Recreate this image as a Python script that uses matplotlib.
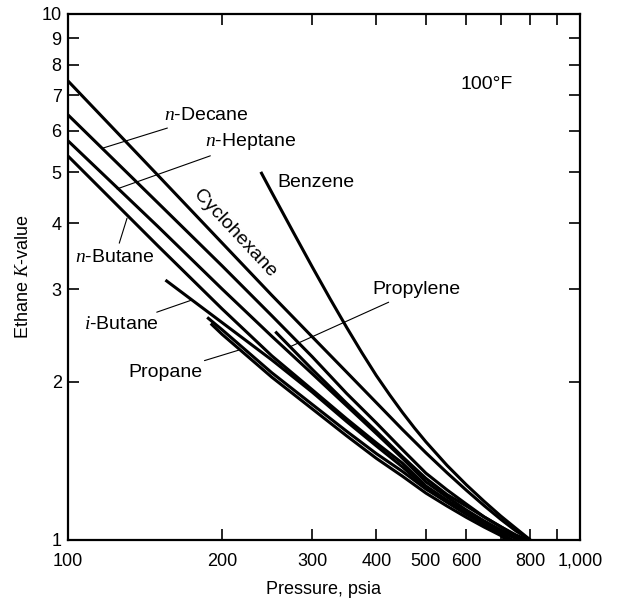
import matplotlib
matplotlib.use("Agg")
import matplotlib.pyplot as plt
from matplotlib.ticker import FixedLocator, FixedFormatter, NullLocator

plt.rcParams['font.family'] = ['Liberation Sans', 'DejaVu Sans']
plt.rcParams['mathtext.fontset'] = 'custom'
plt.rcParams['mathtext.rm'] = 'Liberation Sans'
plt.rcParams['mathtext.it'] = 'Liberation Serif:italic'
plt.rcParams['font.size'] = 13

# ethane K-value vs pressure (psia)
cyclohexane_p = [100, 150, 200, 250, 300, 350, 400, 450, 500, 550, 600, 650, 700, 750, 800]
cyclohexane_k = [7.46, 4.93, 3.67, 2.92, 2.433, 2.086, 1.825, 1.622, 1.465, 1.342, 1.243, 1.162, 1.095, 1.04, 1.0]

benzene_p = [238, 250, 275, 300, 325, 350, 375, 400, 425, 450, 475, 500, 550, 600, 650, 700, 750, 800]
benzene_k = [5.01, 4.58, 3.858, 3.304, 2.875, 2.538, 2.27, 2.055, 1.887, 1.748, 1.633, 1.537,
             1.386, 1.273, 1.184, 1.111, 1.052, 1.0]

decane_p = [100, 150, 200, 250, 300, 350, 400, 450, 500, 550, 600, 650, 700, 750, 791]
decane_k = [6.43, 4.37, 3.32, 2.67, 2.23, 1.90, 1.67, 1.485, 1.34, 1.245, 1.17, 1.106, 1.06, 1.022, 1.0]

heptane_p = [100, 150, 200, 250, 300, 350, 400, 450, 500, 550, 600, 650, 700, 750, 771]
heptane_k = [5.74, 3.94, 3.00, 2.44, 2.07, 1.80, 1.594, 1.43, 1.29, 1.207, 1.14, 1.087, 1.045, 1.013, 1.0]

butane_p = [100, 150, 200, 250, 300, 350, 400, 450, 500, 550, 600, 650, 700, 757]
butane_k = [5.37, 3.62, 2.75, 2.24, 1.93, 1.70, 1.53, 1.40, 1.267, 1.19, 1.13, 1.082, 1.04, 1.0]

ibutane_p = [155, 200, 250, 300, 350, 400, 450, 500, 550, 600, 650, 700, 737]
ibutane_k = [3.12, 2.59, 2.20, 1.91, 1.68, 1.51, 1.377, 1.256, 1.181, 1.12, 1.072, 1.031, 1.0]

propylene_p = [254, 300, 350, 400, 450, 500, 550, 600, 650, 700, 750, 771]
propylene_k = [2.49, 2.11, 1.82, 1.61, 1.44, 1.31, 1.22, 1.16, 1.106, 1.06, 1.018, 1.0]

propane_upper_p = [187, 200, 250, 300, 350, 400, 450, 500, 550, 600, 650, 700, 729]
propane_upper_k = [2.65, 2.51, 2.08, 1.81, 1.61, 1.46, 1.35, 1.25, 1.18, 1.12, 1.07, 1.03, 1.0]

propane_lower_p = [190, 200, 250, 300, 350, 400, 450, 500, 550, 600, 650, 700, 717]
propane_lower_k = [2.58, 2.46, 2.04, 1.775, 1.578, 1.43, 1.322, 1.228, 1.16, 1.104, 1.058, 1.02, 1.0]

x_ticks = [100, 200, 300, 400, 500, 600, 700, 800, 900, 1000]
x_labels = ['100', '200', '300', '400', '500', '600', '', '800', '', '1,000']
y_ticks = [1, 2, 3, 4, 5, 6, 7, 8, 9, 10]
y_labels = ['1', '2', '3', '4', '5', '6', '7', '8', '9', '10']

fig = plt.figure(figsize=(6.21, 6.02), dpi=100)
ax = fig.add_axes([68 / 621, 1 - 540 / 602, 512 / 621, 526 / 602])

curves = [
    (cyclohexane_p, cyclohexane_k),
    (benzene_p, benzene_k),
    (decane_p, decane_k),
    (heptane_p, heptane_k),
    (butane_p, butane_k),
    (ibutane_p, ibutane_k),
    (propylene_p, propylene_k),
    (propane_upper_p, propane_upper_k),
    (propane_lower_p, propane_lower_k),
]
for p, k in curves:
    ax.plot(p, k, color='black', lw=2.2, solid_capstyle='butt', solid_joinstyle='round')

ax.set_xscale('log')
ax.set_yscale('log')
ax.set_xlim(100, 1000)
ax.set_ylim(1, 10)

ax.xaxis.set_major_locator(FixedLocator(x_ticks))
ax.xaxis.set_major_formatter(FixedFormatter(x_labels))
ax.xaxis.set_minor_locator(NullLocator())
ax.yaxis.set_major_locator(FixedLocator(y_ticks))
ax.yaxis.set_major_formatter(FixedFormatter(y_labels))
ax.yaxis.set_minor_locator(NullLocator())

ax.tick_params(which='both', direction='in', top=True, right=True,
               length=8, width=1.2, labelsize=13)
ax.tick_params(axis='x', pad=9)
ax.tick_params(axis='y', pad=4.5)
for s in ax.spines.values():
    s.set_linewidth(1.6)

ax.set_xlabel('Pressure, psia', fontsize=13)
ax.xaxis.set_label_coords(0.5, -0.078)
ax.set_ylabel('Ethane $K$-value', fontsize=13)
ax.yaxis.set_label_coords(-0.07, 0.5)

fs = 14
lead = dict(arrowstyle='-', lw=0.8, color='black', shrinkA=2, shrinkB=0)
ax.annotate('$n$-Decane', xy=(117, 5.56), xytext=(154, 6.40), fontsize=fs,
            ha='left', va='center', arrowprops=lead)
ax.annotate('$n$-Heptane', xy=(124.7, 4.65), xytext=(185, 5.72), fontsize=fs,
            ha='left', va='center', arrowprops=lead)
ax.annotate('$n$-Butane', xy=(130.4, 4.09), xytext=(123.5, 3.45), fontsize=fs,
            ha='center', va='center', arrowprops=lead)
ax.annotate('$i$-Butane', xy=(174.7, 2.86), xytext=(150.6, 2.57), fontsize=fs,
            ha='right', va='center', arrowprops=lead)
ax.annotate('Propane', xy=(216.8, 2.30), xytext=(182.7, 2.08), fontsize=fs,
            ha='right', va='center', arrowprops=lead)
ax.annotate('Propylene', xy=(271.4, 2.33), xytext=(392.6, 2.99), fontsize=fs,
            ha='left', va='center', arrowprops=lead)
ax.text(256, 4.79, 'Benzene', ha='left', va='center', fontsize=fs)
ax.text(212, 3.83, 'Cyclohexane', ha='center', va='center', fontsize=fs,
        rotation=-47, rotation_mode='anchor')
ax.text(0.818, 0.866, '100°F', transform=ax.transAxes, ha='center', va='center', fontsize=fs)

fig.savefig('out.png', dpi=100)
